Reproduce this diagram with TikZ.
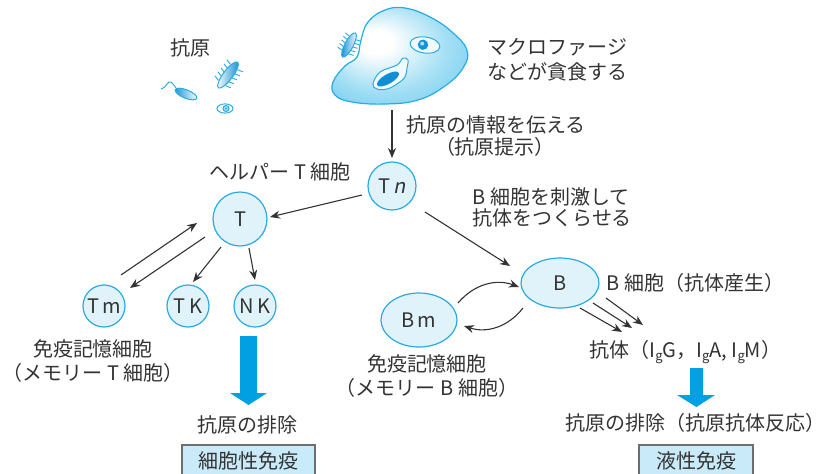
\documentclass[tikz,border=0pt]{standalone}
\usepackage{fontspec}
\setmainfont{Noto Sans CJK JP}
\newfontfamily\slanted[FakeSlant=0.2]{Noto Sans CJK JP}
\usetikzlibrary{arrows.meta,shapes.geometric}

\definecolor{ink}{HTML}{333333}
\definecolor{cellfill}{HTML}{E0F3FB}
\definecolor{celledge}{HTML}{2AAAE2}
\definecolor{bigblue}{HTML}{00A0E3}
\definecolor{boxfill}{HTML}{C9EAF8}
\definecolor{boxedge}{HTML}{6E6E6E}
\definecolor{macmid}{HTML}{A6E0F5}
\definecolor{macout}{HTML}{62C7EE}
\definecolor{deepblue}{HTML}{0F8ED3}

\pgfdeclareradialshading{macshade}{\pgfpoint{-10bp}{8bp}}{%
  color(0bp)=(white); color(6bp)=(white); color(22bp)=(macmid);
  color(40bp)=(macout); color(50bp)=(macout)}

\newcommand\lowg{\raisebox{-0.3ex}{\fontsize{6.5}{7}\selectfont g}}
\newcommand\gap{\hspace{0.25em}}

\tikzset{
  txt/.style={font=\fontsize{10}{12}\selectfont},
  cell/.style={circle, draw=celledge, fill=cellfill, line width=0.6pt,
    inner sep=0pt, text=ink, txt},
  oval/.style={ellipse, draw=celledge, fill=cellfill, line width=0.6pt,
    inner sep=0pt, text=ink, txt},
  lbl/.style={inner sep=0pt, text=ink, txt},
  arr/.style={draw=ink, line width=0.55pt, -{Stealth[length=5pt,width=4pt]}},
  tagbox/.style={fill=boxfill, draw=boxedge, line width=0.6pt, inner sep=0pt,
    text=ink, txt},
  germ/.style={draw=celledge, line width=0.5pt},
  hair/.style={draw=celledge, line width=0.45pt},
}

\begin{document}
\begin{tikzpicture}[x=0.5pt, y=-0.5pt]
\useasboundingbox (0,0) rectangle (827,473);

% ---------- macrophage ----------
\draw[draw=celledge, line width=0.6pt, shading=macshade]
  plot[smooth cycle, tension=0.7] coordinates {
    (333,82) (345,66) (357,57) (361,40) (368,22) (385,10) (405,8) (430,17)
    (452,32) (467,50) (463,68) (445,86) (418,100) (385,104) (352,102) (335,95)};
% engulfed particle (upper)
\begin{scope}[shift={(425,45)}, rotate=-8]
  \draw[germ, fill=white!55!cellfill] (0,0) ellipse [x radius=7.5pt, y radius=4pt];
  \fill[deepblue!80!celledge] (-2,0) circle (2.6pt);
  \fill[white!60!celledge] (-3,-1) circle (1pt);
\end{scope}
% phagocytic vacuole (lower)
\draw[germ, fill=white!55!cellfill] plot[smooth cycle, tension=0.6] coordinates {
  (373,84) (380,72) (397,65) (403,58) (408,60) (407,68) (405,77) (397,84) (387,89) (377,89)};
\begin{scope}[shift={(388,79)}, rotate=30]
  \fill[deepblue] (0,0) ellipse [x radius=6.2pt, y radius=2.4pt];
\end{scope}
\coordinate (mac) at (392,110);

% bacterium on the macrophage surface
\begin{scope}[shift={(349,45)}, rotate=62]
  \foreach \h in {-8,-4,0,4,8} {
    \draw[hair] (\h,4) -- (\h+1,9);
    \draw[hair] (\h,-4) -- (\h+1,-9);
  }
  \draw[germ, left color=deepblue, right color=white]
    (0,0) ellipse [x radius=6.8pt, y radius=2.1pt];
\end{scope}

% ---------- antigens ----------
\node[lbl] (agtxt) at (190,48) {抗原};
\begin{scope}[shift={(228,75)}, rotate=53]
  \foreach \h in {-10,-5,0,5,10} {
    \draw[hair] (\h,4.5) -- (\h+1.5,10);
    \draw[hair] (\h,-4.5) -- (\h+1.5,-10);
  }
  \draw[germ, left color=white, right color=deepblue]
    (0,0) ellipse [x radius=8pt, y radius=2.4pt];
\end{scope}
% flagellate
\draw[germ] (176,88) .. controls (172,82) and (170,80) .. (167,84) .. controls (165,87) .. (161,89);
\begin{scope}[shift={(186,94)}, rotate=-22]
  \draw[germ, left color=deepblue!70!celledge, right color=white]
    (0,0) ellipse [x radius=5.8pt, y radius=2.1pt];
\end{scope}
% small round germ
\draw[germ, fill=white] (225,108.5) ellipse [x radius=4pt, y radius=2.3pt];
\draw[germ, fill=white!60!celledge] (226,108.5) circle (1.5pt);
\fill[celledge] (226,108.5) circle (0.6pt);

% ---------- labels (top) ----------
\node[lbl, anchor=west] (m1) at (487,47) {マクロファージ};
\node[lbl, anchor=west] (m2) at (487,72) {などが貪食する};
\node[lbl] (p1) at (496,125) {抗原の情報を伝える};
\node[lbl] (p2) at (495,147) {（抗原提示）};
\node[lbl, anchor=west] (s1) at (472,197) {B\gap 細胞を刺激して};
\node[lbl, anchor=west] (s2) at (472,218) {抗体をつくらせる};
\node[lbl] (hlp) at (280,172) {ヘルパー\gap T\gap 細胞};

% ---------- cells ----------
\node[cell, minimum size=24pt] (Tn) at (392,186) {T\,{\slanted n}};
\node[cell, minimum size=27pt] (T)  at (240,219) {T};
\node[cell, minimum size=21pt] (Tm) at (104,306) {T\,m};
\node[cell, minimum size=21pt] (TK) at (188,306) {T\,K};
\node[cell, minimum size=21pt] (NK) at (255,306) {N\,K};
\node[oval, minimum width=39pt, minimum height=25pt] (B)  at (560,283) {B};
\node[oval, minimum width=38pt, minimum height=27pt] (Bm) at (419,320) {B\,m};

% ---------- connectors ----------
\draw[arr] (mac) -- ([shift={(0,-28)}]Tn.center);
\draw[arr] ([shift={(-30,9)}]Tn.center) -- ([shift={(30,-2)}]T.center);
\draw[arr] ([shift={(33,26)}]Tn.center) -- ([shift={(-50,-17)}]B.center);
\draw[arr] ([shift={(17,-31)}]Tm.center) -- ([shift={(-43,4)}]T.center);
\draw[arr] ([shift={(-35,18)}]T.center) -- ([shift={(26,-18)}]Tm.center);
\draw[arr] ([shift={(-19,28)}]T.center) -- ([shift={(5,-24)}]TK.center);
\draw[arr] ([shift={(9,29)}]T.center) -- ([shift={(0,-26)}]NK.center);
\draw[arr] ([shift={(39,-17)}]Bm.center) to[bend left=35] ([shift={(-41,4)}]B.center);
\draw[arr] ([shift={(-37,25)}]B.center) to[bend left=35] ([shift={(45,6)}]Bm.center);
\draw[arr] ([shift={(20,25)}]B.center) -- ([shift={(62,49)}]B.center);
\draw[arr] ([shift={(33,20)}]B.center) -- ([shift={(72,45)}]B.center);
\draw[arr] ([shift={(46,15)}]B.center) -- ([shift={(83,42)}]B.center);

% ---------- labels (lower) ----------
\node[lbl] (tm1) at (93,349) {免疫記憶細胞};
\node[lbl] (tm2) at (93,373) {（メモリー\gap T\gap 細胞）};
\node[lbl] (bm1) at (427,364) {免疫記憶細胞};
\node[lbl] (bm2) at (427,388) {（メモリー\gap B\gap 細胞）};
\node[lbl, anchor=west] (bl) at (606,283) {B\gap 細胞（抗体産生）};
\node[lbl, anchor=west] (ab) at (589,352) {抗体（I\lowg G，I\lowg A, I\lowg M）};

% big arrows
\fill[bigblue] (240,336) -- (257,336) -- (257,393) -- (267,393) -- (248.5,405)
  -- (230,393) -- (240,393) -- cycle;
\fill[bigblue] (690,368) -- (703,368) -- (703,395) -- (715,395) -- (696.5,407)
  -- (677,395) -- (690,395) -- cycle;

\node[lbl] (ex1) at (248,425) {抗原の排除};
\node[lbl] (ex2) at (696,423) {抗原の排除（抗原抗体反応）};

\node[tagbox, minimum width=66.5pt, minimum height=16pt] (cb) at (248.5,461) {細胞性免疫};
\node[tagbox, minimum width=57pt, minimum height=16pt] (hb) at (696,461) {液性免疫};
\end{tikzpicture}
\end{document}
